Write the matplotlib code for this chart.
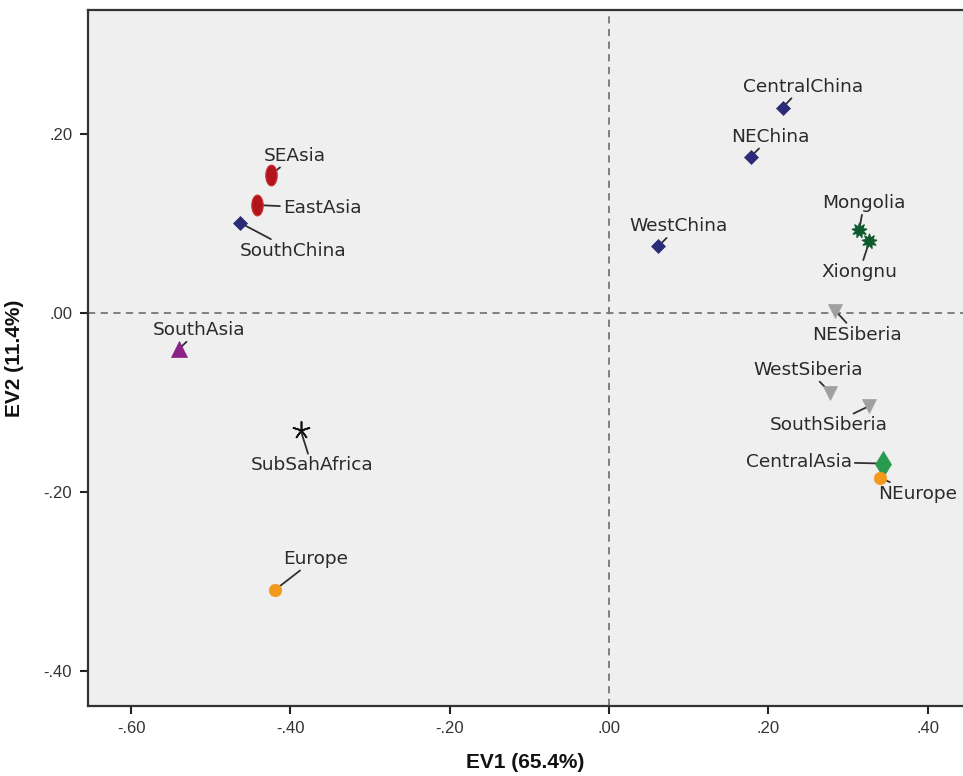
import matplotlib
matplotlib.use("Agg")
import matplotlib.pyplot as plt
from matplotlib.path import Path
from matplotlib.ticker import FuncFormatter
import numpy as np

# Population coordinates on the first two eigenvectors
groups = ["SEAsia", "EastAsia", "SouthChina", "SouthAsia", "SubSahAfrica", "Europe",
          "CentralChina", "NEChina", "WestChina", "Mongolia", "Xiongnu", "NESiberia",
          "WestSiberia", "SouthSiberia", "CentralAsia", "NEurope"]
ev1 = [-0.424, -0.442, -0.463, -0.540, -0.387, -0.419,
       0.218, 0.178, 0.062, 0.314, 0.327, 0.284,
       0.278, 0.326, 0.344, 0.340]
ev2 = [0.155, 0.121, 0.101, -0.040, -0.131, -0.309,
       0.230, 0.175, 0.075, 0.093, 0.081, 0.003,
       -0.089, -0.104, -0.168, -0.184]

x_ticks = [-0.6, -0.4, -0.2, 0.0, 0.2, 0.4]
y_ticks = [-0.4, -0.2, 0.0, 0.2]
x_title = "EV1 (65.4%)"
y_title = "EV2 (11.4%)"

# vertical ellipse marker
t = np.linspace(0, 2 * np.pi, 60)
ellipse = Path(np.column_stack([0.55 * np.cos(t), np.sin(t)]), closed=True)

# marker style per group: (marker, size, face, edge, edge width)
navy = "#2a2c78"
styles = {
    "SEAsia": (ellipse, 15, "#b3141c", "#c83a3a", 0.8),
    "EastAsia": (ellipse, 15, "#b3141c", "#c83a3a", 0.8),
    "SouthChina": ("D", 7.5, navy, navy, 0.5),
    "SouthAsia": ("^", 12, "#8a2287", "#8a2287", 0.5),
    "SubSahAfrica": ((5, 2, 0), 13, "#111111", "#111111", 1.2),
    "Europe": ("o", 9, "#f39a1e", "#f39a1e", 0.5),
    "CentralChina": ("D", 7.5, navy, navy, 0.5),
    "NEChina": ("D", 7.5, navy, navy, 0.5),
    "WestChina": ("D", 7.5, navy, navy, 0.5),
    "Mongolia": ((9, 1, 0), 11, "#0f5a2c", "#0f5a2c", 0.8),
    "Xiongnu": ((9, 1, 0), 11, "#0f5a2c", "#0f5a2c", 0.8),
    "NESiberia": ("v", 10, "#a0a0a0", "#a0a0a0", 0.5),
    "WestSiberia": ("v", 10, "#a0a0a0", "#a0a0a0", 0.5),
    "SouthSiberia": ("v", 10, "#a0a0a0", "#a0a0a0", 0.5),
    "CentralAsia": ("d", 13, "#2a9a4e", "#2a9a4e", 0.5),
    "NEurope": ("o", 9, "#f39a1e", "#f39a1e", 0.5),
}

# label offsets in pixels from each marker
offsets = {
    "SEAsia": (23, 19), "EastAsia": (65, -3), "SouthChina": (53, -28),
    "SouthAsia": (20, 19), "SubSahAfrica": (11, -35), "Europe": (40, 31),
    "CentralChina": (20, 21), "NEChina": (20, 20), "WestChina": (20, 20),
    "Mongolia": (5, 27), "Xiongnu": (-10, -31), "NESiberia": (22, -24),
    "WestSiberia": (-22, 23), "SouthSiberia": (-40, -19), "CentralAsia": (-84, 2),
    "NEurope": (38, -16),
}

fig = plt.figure(figsize=(9.63, 7.76), dpi=100)
ax = fig.add_axes([87.5 / 963, 70 / 776, 1 - 87.5 / 963, 696 / 776])
ax.set_facecolor("#efefef")
ax.set_xlim(-0.6547, 0.4444)
ax.set_ylim(-0.439, 0.339)

ax.axvline(0, color="#777777", lw=1.3, ls=(0, (4, 3)), zorder=1)
ax.axhline(0, color="#777777", lw=1.3, ls=(0, (4, 3)), zorder=1)

for name, x, y in zip(groups, ev1, ev2):
    m, ms, fc, ec, mew = styles[name]
    ax.plot([x], [y], marker=m, ms=ms, mfc=fc, mec=ec, mew=mew, ls="none", zorder=5)
    dx, dy = offsets[name]
    ax.annotate(name, xy=(x, y), xytext=(dx, dy), textcoords="offset pixels",
                ha="center", va="center", fontsize=13.3, color="#2a2a2a",
                family="DejaVu Sans",
                arrowprops=dict(arrowstyle="-", color="#303030", lw=1.3,
                                shrinkA=0, shrinkB=0),
                zorder=4)

ax.set_xticks(x_ticks)
ax.set_yticks(y_ticks)
fmt = FuncFormatter(lambda v, p: ("-" if v < -1e-9 else "") + ("%.2f" % abs(v)).lstrip("0"))
ax.xaxis.set_major_formatter(fmt)
ax.yaxis.set_major_formatter(fmt)
ax.tick_params(direction="out", length=6, width=1.5, color="#222222",
               labelsize=12, labelcolor="#333333", pad=5)
for lab in ax.get_xticklabels() + ax.get_yticklabels():
    lab.set_family("Liberation Sans")

for side in ("left", "bottom", "top"):
    ax.spines[side].set_linewidth(1.6)
    ax.spines[side].set_color("#333333")
ax.spines["right"].set_visible(False)

ax.set_xlabel(x_title, fontsize=15, fontweight="bold", family="Liberation Sans",
              color="#111111", labelpad=12)
ax.set_ylabel(y_title, fontsize=15, fontweight="bold", family="Liberation Sans",
              color="#111111", labelpad=14)

fig.savefig("out.png", dpi=100, facecolor="white")
